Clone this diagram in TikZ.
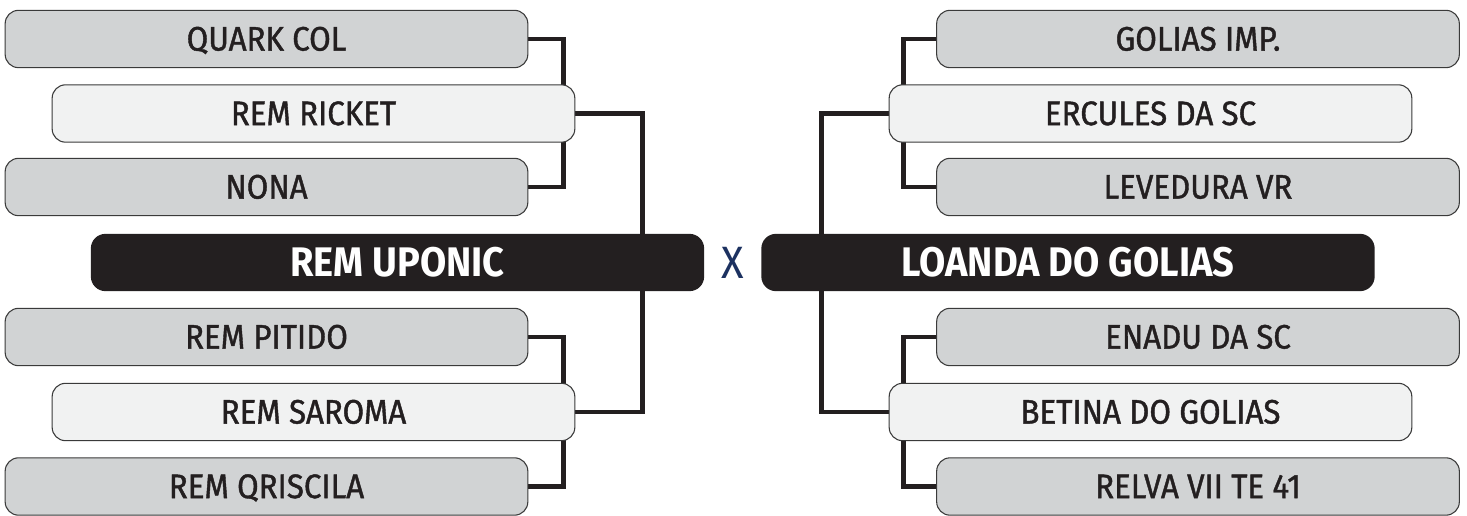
\documentclass[tikz,border=0pt]{standalone}
\usepackage{fontspec}
\setmainfont[FakeStretch=0.92]{Fira Sans}
\newfontfamily\teamfont[FakeStretch=0.92, FakeBold=1.2]{Fira Sans}
\usepackage{xcolor}
\usepackage{tikz}
\usetikzlibrary{backgrounds}
\definecolor{boxgray}{HTML}{D1D3D4}
\definecolor{boxlight}{HTML}{F1F2F2}
\definecolor{boxblack}{HTML}{231F20}
\definecolor{boxedge}{HTML}{3A3A3A}
\definecolor{versusblue}{HTML}{1C3160}
\begin{document}
\begin{tikzpicture}[x=0.75pt,y=-0.75pt,
  team/.style={draw=boxedge, line width=0.8pt, rounded corners=10pt, minimum width=392pt, minimum height=43pt, inner sep=0pt, text=boxblack, font=\teamfont\fontsize{25.5}{25.5}\selectfont, text height=17.4pt, text depth=0pt},
  seed/.style={team, fill=boxgray},
  wild/.style={team, fill=boxlight},
  finalist/.style={fill=boxblack, rounded corners=11pt, minimum width=460pt, minimum height=43pt, inner sep=0pt, text=white, font=\bfseries\fontsize{31}{31}\selectfont, text height=21.3pt, text depth=0pt},
  link/.style={line width=3.6pt, boxblack}]
\useasboundingbox (0,0) rectangle (1467,516);

\node[seed] (quarkcol) at (266.5,39) {QUARK COL};
\node[wild] (remricket) at (313.5,113.5) {REM RICKET};
\node[seed] (nona) at (266.5,187) {NONA};
\node[finalist] (remuponic) at (397.5,262.5) {REM UPONIC};
\node[seed] (rempitido) at (266.5,337) {REM PITIDO};
\node[wild] (remsaroma) at (313.5,412) {REM SAROMA};
\node[seed] (remqriscila) at (266.5,486.5) {REM QRISCILA};

\node[text=versusblue, font=\fontsize{34}{34}\selectfont] (versus) at (733,262.5) {X};

\node[seed] (goliasimp) at (1198,39) {GOLIAS IMP.};
\node[wild] (ercules) at (1150.5,113.5) {ERCULES DA SC};
\node[seed] (levedura) at (1198,187) {LEVEDURA VR};
\node[finalist] (loanda) at (1068,262.5) {LOANDA DO GOLIAS};
\node[seed] (enadu) at (1198,337) {ENADU DA SC};
\node[wild] (betina) at (1150.5,412) {BETINA DO GOLIAS};
\node[seed] (relva) at (1198,486.5) {RELVA VII TE 41};

\begin{scope}[on background layer]
\draw[link] (quarkcol.east) -- ++(35,0) |- (nona.east);
\draw[link] (remricket.east) -- ++(67,0) |- (remsaroma.east);
\draw[link] (rempitido.east) -- ++(35,0) |- (remqriscila.east);
\draw[link] (goliasimp.west) -- ++(-33,0) |- (levedura.west);
\draw[link] (ercules.west) -- ++(-67,0) |- (betina.west);
\draw[link] (enadu.west) -- ++(-33,0) |- (relva.west);
\end{scope}
\end{tikzpicture}
\end{document}
